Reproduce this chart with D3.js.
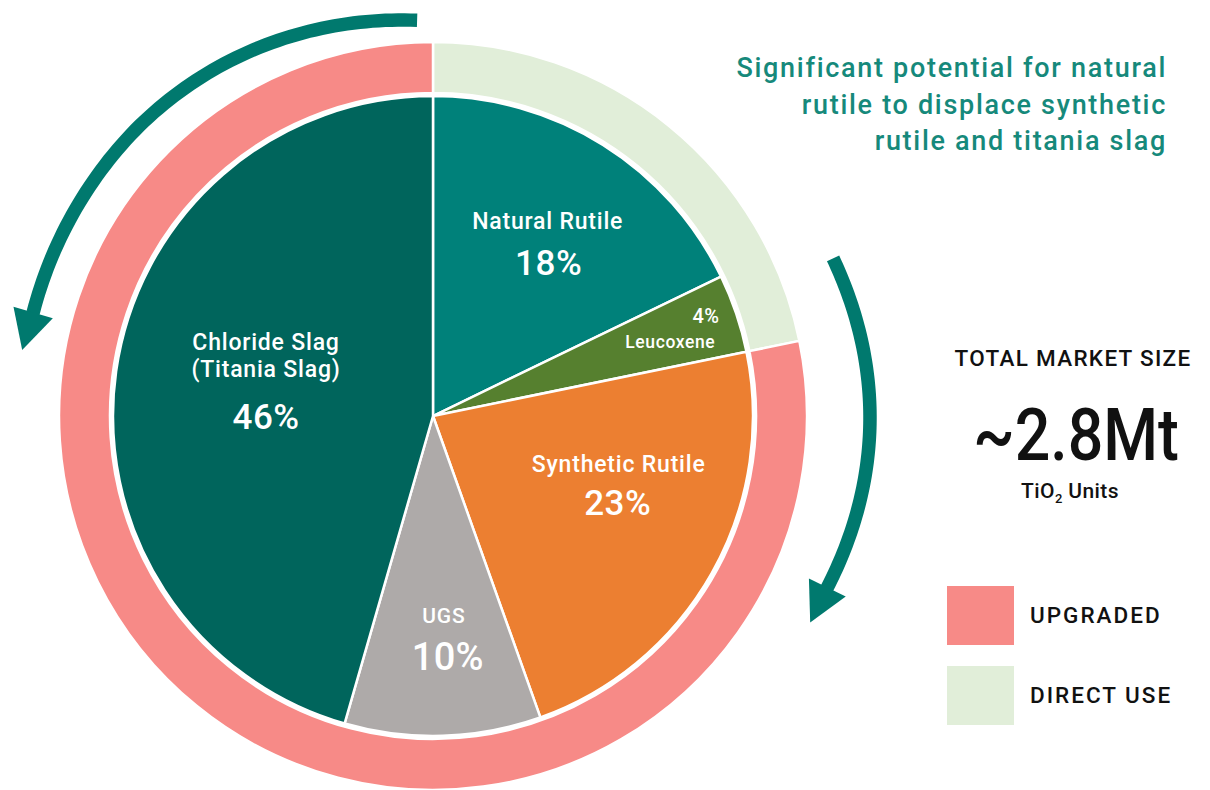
<!DOCTYPE html>
<html>
<head>
<meta charset="utf-8">
<script src="https://cdn.jsdelivr.net/npm/d3@7"></script>
<style>
  html, body { margin: 0; padding: 0; background: #fff; }
  svg { display: block; font-family: Roboto, "DejaVu Sans", sans-serif; }
</style>
</head>
<body>
<svg id="chart" width="1210" height="790"></svg>
<script>
// Feedstock shares of the TiO2 market (inner pie), clockwise from 12 o'clock
const categories = ["Natural Rutile", "Leucoxene", "Synthetic Rutile", "UGS", "Chloride Slag"];
const shares = [18, 4, 23, 10, 46];
const sliceColors = ["#00817a", "#56802f", "#ec7f31", "#aeaaa9", "#00655c"];

// Outer ring: how each share is used
const usageGroups = ["DIRECT USE", "UPGRADED"];
const usageShares = [22, 79];
const usageColors = ["#e1eed9", "#f78a87"];

// Legend entries (top to bottom)
const legendItems = ["UPGRADED", "DIRECT USE"];
const legendColors = ["#f78a87", "#e1eed9"];

const teal = "#00796e";
const svg = d3.select("#chart");
const cx = 433, cy = 416;
const rPie = 320, rRingIn = 323, rRingOut = 374;
const deg = Math.PI / 180;

const g = svg.append("g").attr("transform", `translate(${cx},${cy})`);

// Outer usage ring
const ringPie = d3.pie().sort(null).value(d => d);
const ringArc = d3.arc().innerRadius(rRingIn).outerRadius(rRingOut);
g.selectAll("path.ring")
  .data(ringPie(usageShares))
  .join("path")
  .attr("class", "ring")
  .attr("d", ringArc)
  .attr("fill", (d, i) => usageColors[i])
  .attr("stroke", "#fff")
  .attr("stroke-width", 2.5);

// Inner pie
const pie = d3.pie().sort(null).value(d => d);
const arc = d3.arc().innerRadius(0).outerRadius(rPie);
const slices = pie(shares);
g.selectAll("path.slice")
  .data(slices)
  .join("path")
  .attr("class", "slice")
  .attr("d", arc)
  .attr("fill", (d, i) => sliceColors[i])
  .attr("stroke", "#fff")
  .attr("stroke-width", 2.5)
  .attr("stroke-linejoin", "round");

// Label anchor per slice: [radius, angle shift from slice middle, in degrees]
const labelPlacement = [[200, 2.9], [265, 0.9], [201, -6.9], [224, -1.5], [169, 0.85]];
function labelPoint(i) {
  const s = slices[i];
  const a = (s.startAngle + s.endAngle) / 2 + labelPlacement[i][1] * deg;
  const r = labelPlacement[i][0];
  return [r * Math.sin(a), -r * Math.cos(a)];
}

const labelLayer = g.append("g").attr("fill", "#fff").attr("text-anchor", "middle").attr("font-weight", 500);
function addLabel(x, y, size, text, spacing, anchor) {
  return labelLayer.append("text").attr("x", x).attr("y", y)
    .attr("font-size", size).attr("letter-spacing", spacing || 0)
    .attr("text-anchor", anchor || "middle").text(text);
}

// Natural Rutile
{
  const [x, y] = labelPoint(0);
  addLabel(x, y - 23, 23, categories[0], 0.8);
  addLabel(x + 1, y + 23, 35, shares[0] + "%", 0.5);
}
// Leucoxene
{
  const [x, y] = labelPoint(1);
  addLabel(x + 34, y - 12, 20, shares[1] + "%", 0.3, "end");
  addLabel(x - 15, y + 13, 17.5, categories[1], 0.6);
}
// Synthetic Rutile
{
  const [x, y] = labelPoint(2);
  addLabel(x, y - 21, 23, categories[2], 0.8);
  addLabel(x - 1, y + 22, 35, shares[2] + "%", 0.5);
}
// UGS
{
  const [x, y] = labelPoint(3);
  addLabel(x - 2, y - 17, 21, categories[3], 0.8);
  addLabel(x + 2, y + 30, 38, shares[3] + "%", 0.3);
}
// Chloride Slag
{
  const [x, y] = labelPoint(4);
  addLabel(x, y - 40, 23, categories[4], 0.8);
  addLabel(x, y - 13, 23, "(Titania Slag)", 0.8);
  addLabel(x, y + 39, 35, shares[4] + "%", 0.5);
}

// Curved arrows around the pie
function drawArrow(a0, a1, rAt, headLen, headHalf) {
  const n = 80;
  const pts = d3.range(n + 1).map(k => {
    const t = k / n;
    const a = (a0 + (a1 - a0) * t) * deg;
    const r = rAt(t);
    return [r * Math.sin(a), -r * Math.cos(a)];
  });
  const end = pts[n], prev = pts[n - 4];
  const dx = end[0] - prev[0], dy = end[1] - prev[1];
  const len = Math.hypot(dx, dy);
  const ux = dx / len, uy = dy / len;
  // shaft runs slightly into the head so there is no gap
  const shaft = pts.concat([[end[0] + ux * 4, end[1] + uy * 4]]);
  g.append("path")
    .attr("d", d3.line()(shaft))
    .attr("fill", "none")
    .attr("stroke", teal)
    .attr("stroke-width", 13.5);
  const tip = [end[0] + ux * headLen, end[1] + uy * headLen];
  const b1 = [end[0] - uy * headHalf, end[1] + ux * headHalf];
  const b2 = [end[0] + uy * headHalf, end[1] - ux * headHalf];
  g.append("path")
    .attr("d", `M${b1}L${tip}L${b2}Z`)
    .attr("fill", teal);
}
// left: counter-clockwise from the top
drawArrow(-2.3, -75.5, t => 396 + 17 * Math.sin(Math.min(1, t * 1.5) * Math.PI / 2), 39, 20.5);
// right: clockwise down the right side
drawArrow(68.5, 113.5, t => 430 + 7 * Math.sin(Math.PI * t), 39, 20.5);

// Headline text (right-aligned)
const headline = ["Significant potential for natural", "rutile to displace synthetic", "rutile and titania slag"];
svg.append("g").selectAll("text")
  .data(headline)
  .join("text")
  .attr("x", 1167)
  .attr("y", (d, i) => 77 + i * 36.5)
  .attr("text-anchor", "end")
  .attr("fill", "#16897b")
  .attr("font-size", 27)
  .attr("font-weight", 500)
  .attr("letter-spacing", 1.7)
  .text(d => d);

// Market size block
const info = svg.append("g").attr("text-anchor", "middle").attr("fill", "#111").attr("font-weight", 500);
info.append("text").attr("x", 1073).attr("y", 366)
  .attr("font-size", 22.5).attr("letter-spacing", 1.3).text("TOTAL MARKET SIZE");
info.append("g").attr("transform", "translate(1076,460) scale(0.87,1)")
  .append("text").attr("x", 0).attr("y", 0)
  .attr("font-size", 72).text("~2.8Mt");
const units = info.append("text").attr("x", 1070).attr("y", 498)
  .attr("font-size", 21).attr("letter-spacing", 0.4);
units.append("tspan").text("TiO");
units.append("tspan").attr("font-size", 13).attr("dy", 5).text("2");
units.append("tspan").attr("dy", -5).text(" Units");

// Legend
const legend = svg.append("g").selectAll("g")
  .data(legendItems)
  .join("g")
  .attr("transform", (d, i) => `translate(947,${586 + i * 80})`);
legend.append("rect").attr("width", 67).attr("height", 59)
  .attr("fill", (d, i) => legendColors[i]);
legend.append("text").attr("x", 83).attr("y", 37)
  .attr("font-size", 22.5).attr("font-weight", 500).attr("fill", "#111")
  .attr("letter-spacing", 2)
  .text(d => d);
</script>
</body>
</html>
